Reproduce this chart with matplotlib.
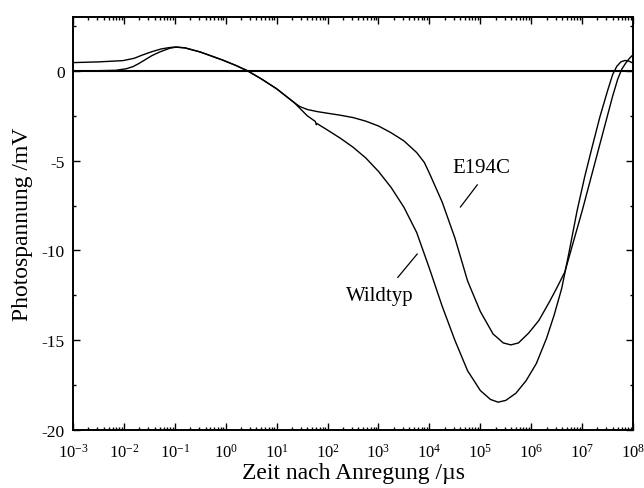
import matplotlib
matplotlib.use("Agg")
import matplotlib.pyplot as plt
import numpy as np

plt.rcParams["font.family"] = ["Liberation Serif", "DejaVu Serif"]
plt.rcParams["mathtext.fontset"] = "custom"
plt.rcParams["mathtext.rm"] = "Liberation Serif"
plt.rcParams["mathtext.it"] = "Liberation Serif:italic"

# log10(time / us) and photovoltage (mV)
wt_logt = [-3.0, -2.5, -2.16, -1.95, -1.82, -1.7, -1.59, -1.45, -1.29, -1.1,
           -0.98, -0.8, -0.5, -0.06, 0.2, 0.43, 0.7, 1.0, 1.35, 1.6,
           1.76, 1.78, 1.79, 2.0, 2.25, 2.5, 2.75, 3.0, 3.25, 3.5,
           3.75, 4.0, 4.25, 4.5, 4.75, 5.0, 5.2, 5.35, 5.5, 5.7,
           5.9, 6.1, 6.3, 6.45, 6.6, 6.75, 6.9, 7.05, 7.2, 7.35,
           7.5, 7.6, 7.68, 7.76, 7.84, 7.92, 8.0]
wt_mv = [0.0, 0.01, 0.03, 0.12, 0.24, 0.42, 0.61, 0.85, 1.06, 1.26,
         1.32, 1.28, 1.05, 0.6, 0.3, 0.0, -0.45, -1.0, -1.78, -2.5,
         -2.82, -3.0, -2.93, -3.3, -3.75, -4.25, -4.85, -5.6, -6.5, -7.6,
         -9.0, -11.0, -13.1, -15.0, -16.7, -17.8, -18.3, -18.45, -18.35, -17.95,
         -17.25, -16.3, -14.9, -13.6, -12.1, -10.0, -7.8, -5.9, -4.2, -2.55,
         -1.1, -0.2, 0.25, 0.5, 0.58, 0.54, 0.43]

mut_logt = [-3.0, -2.5, -2.02, -1.8, -1.63, -1.45, -1.27, -1.1, -0.98, -0.8,
            -0.5, -0.06, 0.2, 0.43, 0.7, 1.0, 1.35, 1.45, 1.6, 1.8,
            2.0, 2.25, 2.5, 2.75, 3.0, 3.25, 3.5, 3.75, 3.9, 4.0,
            4.25, 4.5, 4.75, 5.0, 5.25, 5.45, 5.6, 5.75, 5.95, 6.15,
            6.35, 6.5, 6.66, 6.85, 7.0, 7.15, 7.3, 7.45, 7.6, 7.7,
            7.78, 7.86, 7.93, 8.0]
mut_mv = [0.46, 0.5, 0.57, 0.7, 0.89, 1.07, 1.22, 1.3, 1.33, 1.28,
          1.05, 0.6, 0.3, 0.0, -0.45, -1.0, -1.78, -1.98, -2.15, -2.27,
          -2.36, -2.47, -2.6, -2.8, -3.07, -3.45, -3.9, -4.55, -5.1, -5.7,
          -7.3, -9.3, -11.7, -13.4, -14.65, -15.15, -15.26, -15.15, -14.6, -13.9,
          -12.9, -12.1, -11.2, -9.3, -7.8, -6.2, -4.6, -3.0, -1.4, -0.45,
          0.1, 0.45, 0.7, 0.9]

fig = plt.figure(figsize=(6.44, 4.89), dpi=100)
ax = fig.add_axes([0.1134, 0.1186, 0.8696, 0.8446])

ax.axhline(0, color="black", lw=1.5, zorder=1)
ax.plot(10 ** np.array(wt_logt), wt_mv, color="black", lw=1.0)
ax.plot(10 ** np.array(mut_logt), mut_mv, color="black", lw=1.0)

# labels with short pointer lines
ax.text(10 ** 5.02, -5.4, "E194C", fontsize=15, ha="center", va="center")
ax.plot([10 ** 4.94, 10 ** 4.61], [-6.35, -7.58], color="black", lw=0.9)
ax.text(10 ** 3.03, -12.5, "Wildtyp", fontsize=15, ha="center", va="center")
ax.plot([10 ** 3.76, 10 ** 3.38], [-10.2, -11.5], color="black", lw=0.9)

ax.set_xscale("log")
ax.set_xlim(1e-3, 1e8)
ax.set_ylim(-20, 3)
ax.set_xticks([10.0 ** k for k in range(-3, 9)])
ax.xaxis.set_minor_locator(matplotlib.ticker.LogLocator(base=10, subs=np.arange(2, 10), numticks=30))
ax.xaxis.set_minor_formatter(matplotlib.ticker.NullFormatter())
ax.set_yticks([0, -5, -10, -15, -20])
ax.set_yticks([2.5, -2.5, -7.5, -12.5, -17.5], minor=True)
ax.set_yticklabels(["0", "-5", "-10", "-15", "-20"])

ax.tick_params(which="both", direction="in", top=True, right=True, width=1.0)
ax.tick_params(which="major", length=5)
ax.tick_params(which="minor", length=2.5)
ax.tick_params(axis="x", labelsize=12, pad=9)
ax.tick_params(axis="y", labelsize=12.5, pad=6)
for s in ax.spines.values():
    s.set_linewidth(1.4)

ax.set_xlabel("Zeit nach Anregung /\u00b5s", fontsize=17, labelpad=1)
ax.set_ylabel("Photospannung /mV", fontsize=17, labelpad=6)

fig.savefig("out.png", dpi=100)
